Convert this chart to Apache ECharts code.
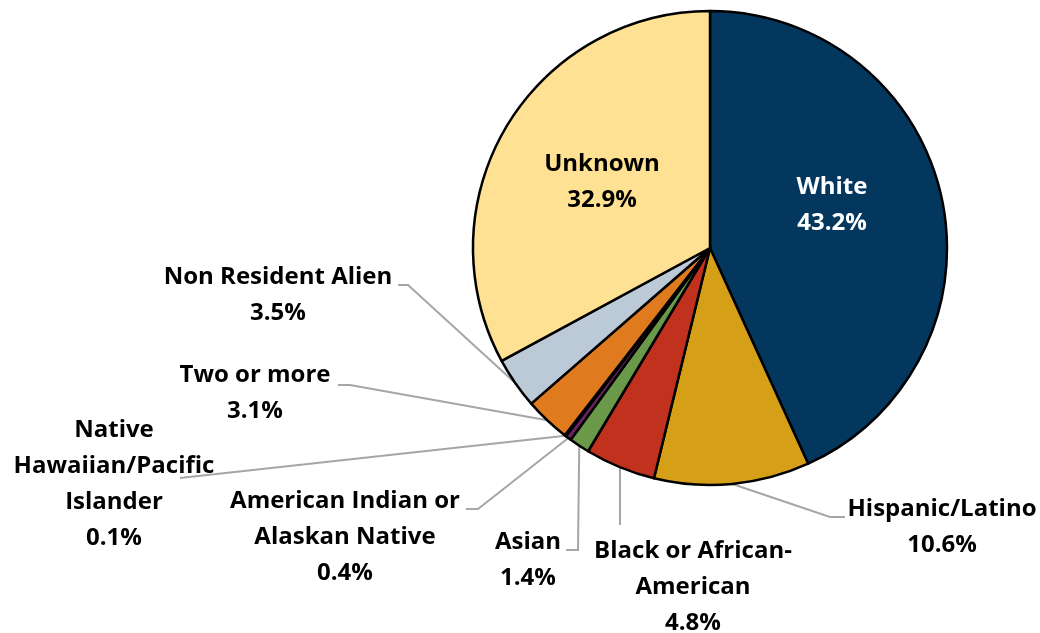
<!DOCTYPE html>
<html>
<head>
<meta charset="utf-8">
<script src="https://cdn.jsdelivr.net/npm/echarts@6/dist/echarts.min.js"></script>
<style>
  html, body { margin: 0; padding: 0; background: #fff; }
  #chart { width: 1040px; height: 633px; }
</style>
</head>
<body>
<div id="chart"></div>
<script>
// ---- Data ----
const categories = [
  'White',
  'Hispanic/Latino',
  'Black or African-\nAmerican',
  'Asian',
  'American Indian or\nAlaskan Native',
  'Native\nHawaiian/Pacific\nIslander',
  'Two or more',
  'Non Resident Alien',
  'Unknown'
];
const values = [43.2, 10.6, 4.8, 1.4, 0.4, 0.1, 3.1, 3.5, 32.9];

// ---- Styles (kept separate from data) ----
const colors = ['#03375e', '#d5a017', '#c0311e', '#6a994a', '#6b2460', '#1f3864', '#e07a1f', '#bcc9d6', '#fee192'];
const labelColors = ['#ffffff', '#000', '#000', '#000', '#000', '#000', '#000', '#000', '#000'];
// label centre positions and leader-line knee/end points (pixels)
const placements = [
  { x: 832, y: 205, line: null },
  { x: 942, y: 527, line: [[830, 517], [845, 517]] },
  { x: 693, y: 587, line: [[620, 525], [620, 525]] },
  { x: 528, y: 560, line: [[578, 550], [566, 550]] },
  { x: 345, y: 537, line: [[478, 509], [466, 509]] },
  { x: 114, y: 484, line: [[180, 478], [180, 478]] },
  { x: 255, y: 393, line: [[350, 385], [338, 385]] },
  { x: 278, y: 295, line: [[408, 285], [398, 285]] },
  { x: 602, y: 182, line: null }
];

const CX = 710, CY = 248, R = 237;
const total = values.reduce((a, b) => a + b, 0);
function edgePoint(i) {
  let before = 0;
  for (let k = 0; k < i; k++) before += values[k];
  const mid = (before + values[i] / 2) / total * Math.PI * 2;
  return [CX + R * Math.sin(mid), CY - R * Math.cos(mid)];
}

const chart = echarts.init(document.getElementById('chart'), null, { renderer: 'canvas' });

const seriesData = categories.map((name, i) => ({
  name: name,
  value: values[i],
  itemStyle: { color: colors[i] },
  label: { color: labelColors[i] },
  labelLine: { show: placements[i].line !== null }
}));

chart.setOption({
  backgroundColor: '#ffffff',
  animation: false,
  series: [{
    type: 'pie',
    center: [CX, CY],
    radius: R,
    startAngle: 90,
    clockwise: true,
    avoidLabelOverlap: false,
    data: seriesData,
    itemStyle: { borderColor: '#000', borderWidth: 2.5 },
    label: {
      show: true,
      position: 'outside',
      formatter: p => p.name + '\n' + p.value.toFixed(1) + '%',
      fontFamily: 'Open Sans',
      fontWeight: 'bold',
      fontSize: 24,
      lineHeight: 36,
      align: 'center'
    },
    labelLine: {
      show: true,
      lineStyle: { color: '#a6a6a6', width: 2 }
    },
    labelLayout: function (params) {
      const i = params.dataIndex;
      const p = placements[i];
      const res = { x: p.x, y: p.y, align: 'center', verticalAlign: 'middle' };
      if (p.line) {
        const start = (params.labelLinePoints && params.labelLinePoints[0]) || edgePoint(i);
        res.labelLinePoints = [start, p.line[0], p.line[1]];
      }
      return res;
    }
  }]
});
</script>
</body>
</html>
